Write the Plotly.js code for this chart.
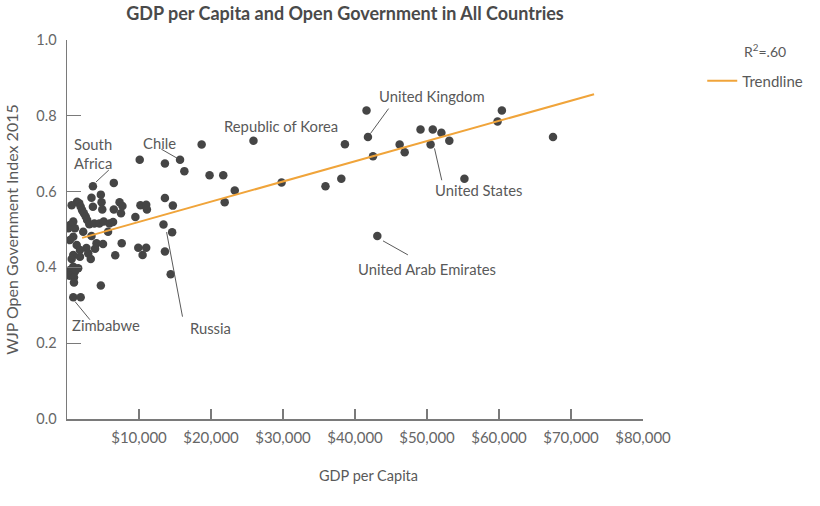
<!DOCTYPE html>
<html>
<head>
<meta charset="utf-8">
<script src="https://cdn.plot.ly/plotly-3.0.1.min.js"></script>
<style>
  html, body { margin: 0; padding: 0; background: #ffffff; }
  #chart { width: 820px; height: 506px; }
</style>
</head>
<body>
<div id="chart"></div>
<script>
// GDP per capita (US$) and WJP Open Government Index 2015
const gdp = [
  41600, 41800, 38600, 38100, 42500, 46200, 46900, 49100, 50800, 52000,
  53100, 50500, 55200, 59800, 60400, 67500, 43100, 35900, 29800, 25900,
  18700, 10100, 13600, 15700, 16300, 19800, 21700, 23300, 21900, 13600,
  14700, 10200, 11000, 11100, 9500, 7300, 7700, 7500, 13400, 14600,
  9900, 11000, 10500, 13600, 14400, 6500, 3600, 3400, 4700, 4800,
  1400, 650, 6500, 3600, 4900, 1700, 1900, 2100, 2350, 2600,
  2800, 3100, 3800, 4500, 5100, 5900, 6400, 5700, 870, 410,
  200, 1100, 2250, 3400, 870, 410, 4100, 5000, 7600, 1350,
  2700, 1800, 3900, 2950, 1800, 870, 650, 3300, 6700, 870,
  1550, 410, 1100, 320, 970, 970, 4700, 870, 1900
];
const wjp = [
  0.814, 0.744, 0.725, 0.634, 0.693, 0.724, 0.704, 0.764, 0.764, 0.755,
  0.734, 0.724, 0.634, 0.785, 0.814, 0.744, 0.483, 0.614, 0.624, 0.734,
  0.724, 0.684, 0.674, 0.684, 0.654, 0.643, 0.643, 0.603, 0.572, 0.583,
  0.563, 0.564, 0.565, 0.553, 0.533, 0.572, 0.562, 0.543, 0.513, 0.493,
  0.452, 0.452, 0.433, 0.442, 0.382, 0.623, 0.614, 0.584, 0.592, 0.572,
  0.573, 0.564, 0.553, 0.560, 0.553, 0.569, 0.560, 0.551, 0.543, 0.534,
  0.525, 0.514, 0.516, 0.516, 0.521, 0.516, 0.520, 0.494, 0.521, 0.512,
  0.503, 0.503, 0.494, 0.483, 0.481, 0.472, 0.464, 0.462, 0.464, 0.459,
  0.451, 0.446, 0.449, 0.437, 0.428, 0.433, 0.422, 0.422, 0.432, 0.402,
  0.398, 0.393, 0.389, 0.378, 0.374, 0.360, 0.352, 0.321, 0.321
];

// Trendline end points
const trendX = [2100, 73200];
const trendY = [0.478, 0.857];

// Axis ticks
const xTickVals = [10000, 20000, 30000, 40000, 50000, 60000, 70000, 80000];
const xTickText = ["$10,000", "$20,000", "$30,000", "$40,000", "$50,000", "$60,000", "$70,000", "$80,000"];
const yTickVals = [0, 0.2, 0.4, 0.6, 0.8, 1.0];
const yTickText = ["0.0", "0.2", "0.4", "0.6", "0.8", "1.0"];

// Country callouts
const labelText = ["South<br>Africa", "Chile", "Republic of Korea", "United Kingdom", "United States", "United Arab Emirates", "Russia", "Zimbabwe"];
const labelX = [700, 12860, 29670, 50690, 57190, 49930, 19990, 5390];
const labelY = [0.700, 0.728, 0.772, 0.851, 0.604, 0.396, 0.241, 0.249];
const labelAnchor = ["left", "center", "center", "center", "center", "center", "center", "center"];
// leader lines [x0, y0, x1, y1]
const leaderLines = [
  [4010, 0.625, 5810, 0.657],
  [13100, 0.712, 15310, 0.688],
  [44670, 0.819, 42140, 0.753],
  [51040, 0.714, 52050, 0.630],
  [43890, 0.470, 47350, 0.433],
  [13830, 0.493, 16040, 0.270],
  [1110, 0.310, 3180, 0.262]
];

const FONT = "Lato, 'Open Sans', sans-serif";
const TXT = "#595959";
const AX = "#7a7a7a";
const L = 67, R = 645.5, T = 39.5, B = 419.5;
const px2paperX = p => (p - L) / (R - L);
const px2paperY = p => (B - p) / (B - T);

const traces = [
  {
    x: gdp, y: wjp, type: "scatter", mode: "markers",
    marker: { color: "#454545", size: 8.5 },
    showlegend: false, hoverinfo: "x+y"
  },
  {
    x: trendX, y: trendY, type: "scatter", mode: "lines",
    name: "Trendline",
    line: { color: "#f0a43a", width: 2 }
  }
];

const annotations = labelText.map((t, i) => ({
  x: labelX[i], y: labelY[i], xref: "x", yref: "y",
  text: t, showarrow: false, xanchor: labelAnchor[i], yanchor: "middle",
  align: "left",
  font: { family: FONT, size: 14.8, color: TXT }
}));
annotations.push({
  x: px2paperX(745), y: px2paperY(50), xref: "paper", yref: "paper",
  text: "R<sup>2</sup>=.60", showarrow: false, xanchor: "left", yanchor: "middle",
  font: { family: FONT, size: 14, color: TXT }
});
annotations.push({
  x: px2paperX(370), y: px2paperY(476), xref: "paper", yref: "paper",
  text: "GDP per Capita", showarrow: false, xanchor: "center", yanchor: "middle",
  font: { family: FONT, size: 14.5, color: TXT }
});

const shapes = leaderLines.map(s => ({
  type: "line", xref: "x", yref: "y",
  x0: s[0], y0: s[1], x1: s[2], y1: s[3],
  line: { color: "#5a5a5a", width: 1 }
}));

const layout = {
  width: 820, height: 506,
  paper_bgcolor: "#ffffff",
  plot_bgcolor: "rgba(0,0,0,0)",
  margin: { l: L, r: 820 - R, t: T, b: 506 - B, pad: 0 },
  font: { family: FONT, color: TXT, size: 14 },
  title: {
    text: "GDP per Capita and Open Government in All Countries",
    font: { family: FONT, size: 18, color: "#4a4a4a", weight: "bold" },
    x: 345 / 820, xanchor: "center", xref: "container",
    y: 1 - 14 / 506, yanchor: "middle", yref: "container"
  },
  xaxis: {
    range: [0, 80000], autorange: false,
    tickvals: xTickVals, ticktext: xTickText,
    ticks: "inside", ticklen: 10, tickwidth: 1.2, tickcolor: AX,
    showline: true, linecolor: AX, linewidth: 1.5,
    showgrid: false, zeroline: false,
    ticklabelstandoff: 4,
    tickfont: { family: FONT, size: 15, color: "#666" },
    automargin: false
  },
  yaxis: {
    range: [0, 1], autorange: false,
    tickvals: yTickVals, ticktext: yTickText,
    ticks: "inside", ticklen: 14, tickwidth: 1.2, tickcolor: AX,
    showline: true, linecolor: AX, linewidth: 1.5,
    showgrid: false, zeroline: false,
    ticklabelstandoff: 6,
    tickfont: { family: FONT, size: 14.5, color: "#666" },
    title: { text: "WJP Open Government Index 2015", standoff: 13, font: { family: FONT, size: 16, color: TXT } },
    automargin: false
  },
  showlegend: true,
  legend: {
    x: px2paperX(705), xanchor: "left",
    y: px2paperY(64), yanchor: "top",
    bgcolor: "rgba(0,0,0,0)",
    font: { family: FONT, size: 15, color: TXT }
  },
  annotations: annotations,
  shapes: shapes
};

Plotly.newPlot("chart", traces, layout, { displayModeBar: false, staticPlot: true });
</script>
</body>
</html>
